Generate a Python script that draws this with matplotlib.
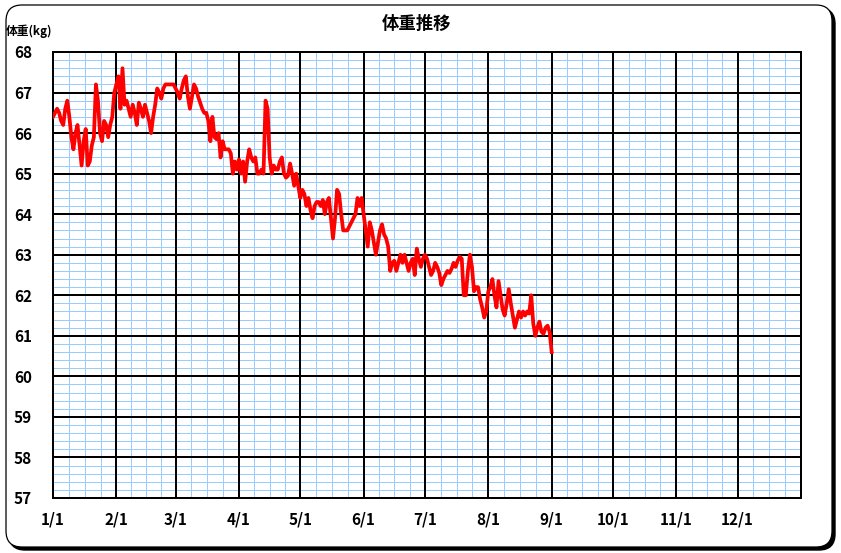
import matplotlib
matplotlib.use("Agg")
import matplotlib.pyplot as plt
import matplotlib.dates as mdates
from matplotlib.patches import FancyBboxPatch
from matplotlib.ticker import MultipleLocator, FixedLocator
from matplotlib.transforms import IdentityTransform
import pandas as pd

plt.rcParams['font.family'] = ['Noto Sans CJK JP', 'DejaVu Sans']

# daily weight (kg)
jan = [66.4, 66.5, 66.6, 66.5, 66.3, 66.2, 66.6, 66.8, 66.4, 65.9, 65.6, 66.0, 66.2, 65.7, 65.2, 65.8,
       66.1, 65.2, 65.3, 65.7, 65.9, 67.2, 66.8, 66.0, 65.8, 66.3, 66.2, 65.9, 66.2, 66.4, 67.0]
feb = [67.2, 67.4, 66.6, 67.6, 66.7, 66.8, 66.6, 66.4, 66.7, 66.5, 66.2, 66.75, 66.6, 66.4, 66.7,
       66.5, 66.3, 66.0, 66.4, 66.7, 67.1, 67.0, 66.85, 67.1, 67.2, 67.2, 67.2, 67.2, 67.2]
mar = [67.1, 67.0, 66.85, 67.1, 67.3, 67.4, 66.9, 66.6, 66.9, 67.2, 67.1, 66.9, 66.75, 66.6, 66.5,
       66.5, 66.3, 65.8, 66.4, 65.9, 65.85, 66.0, 65.4, 65.8, 65.6, 65.6, 65.6, 65.5, 65.0, 65.3, 65.1]
apr = [65.35, 65.0, 65.3, 64.8, 65.3, 65.6, 65.4, 65.3, 65.4, 65.0, 65.0, 65.1, 65.0, 66.8, 66.6,
       65.4, 65.0, 65.2, 65.1, 65.1, 65.3, 65.4, 65.0, 64.9, 64.95, 65.25, 65.0, 64.7, 65.0, 64.7]
may = [64.4, 64.6, 64.5, 64.2, 64.4, 64.1, 63.9, 64.2, 64.3, 64.3, 64.2, 64.35, 64.0, 64.3, 64.4,
       63.9, 63.4, 63.9, 64.6, 64.5, 64.0, 63.6, 63.6, 63.6, 63.7, 63.8, 63.9, 64.0, 64.4, 64.2, 64.4]
jun = [64.0, 63.6, 63.2, 63.8, 63.6, 63.3, 63.0, 63.3, 63.6, 63.75, 63.5, 63.4, 63.2, 62.6, 62.8,
       62.85, 62.6, 62.8, 63.0, 62.8, 63.0, 62.8, 62.6, 62.8, 62.9, 62.5, 63.15, 62.9, 62.7, 62.9]
jul = [63.0, 62.9, 62.7, 62.5, 62.6, 62.8, 62.7, 62.55, 62.25, 62.4, 62.5, 62.6, 62.55, 62.65, 62.8,
       62.7, 62.85, 62.95, 62.9, 62.0, 62.0, 62.6, 63.0, 62.7, 62.1, 62.2, 62.2, 61.9, 61.7, 61.45, 61.6]
aug = [62.1, 62.2, 62.4, 62.0, 61.7, 62.35, 62.0, 61.65, 61.5, 61.8, 62.15, 61.8, 61.5, 61.2, 61.4,
       61.6, 61.45, 61.6, 61.5, 61.6, 61.55, 62.0, 61.3, 61.0, 61.2, 61.35, 61.1, 61.05, 61.2, 61.25, 61.1]
sep = [60.6]

weights = jan + feb + mar + apr + may + jun + jul + aug + sep
dates = pd.date_range("2008-01-01", periods=len(weights), freq="D")

month_starts = pd.date_range("2008-01-01", "2009-01-01", freq="MS")
month_labels = [f"{m}/1" for m in range(1, 13)]
kg_ticks = list(range(57, 69))

W, H = 841, 553
fig = plt.figure(figsize=(W / 100, H / 100), dpi=100)

# outer rounded frame with a small shadow
shadow = FancyBboxPatch((9, 3), 826, 542, boxstyle="round,pad=0,rounding_size=16",
                        transform=IdentityTransform(), facecolor="black", edgecolor="black", zorder=-3)
frame = FancyBboxPatch((6, 6), 826, 542, boxstyle="round,pad=0,rounding_size=16",
                       transform=IdentityTransform(), facecolor="white", edgecolor="black",
                       lw=0.9, zorder=-2)
fig.add_artist(shadow)
fig.add_artist(frame)

ax = fig.add_axes([53 / W, 55 / H, 748 / W, 446 / H])
ax.plot(dates, weights, color="#ff0000", lw=2.7, zorder=3, solid_joinstyle="round")

ax.set_xlim(month_starts[0], month_starts[-1])
ax.set_ylim(57, 68)
ax.set_yticks(kg_ticks)
ax.yaxis.set_minor_locator(MultipleLocator(0.2))
ax.set_xticks(month_starts[:-1])
ax.set_xticklabels(month_labels)

nums = mdates.date2num(month_starts)
minor_x = []
for a, b in zip(nums[:-1], nums[1:]):
    for k in range(1, 4):
        minor_x.append(a + (b - a) * k / 4)
ax.xaxis.set_minor_locator(FixedLocator(minor_x))

# light blue minor grid from the axis, black major grid drawn on top of it
ax.set_axisbelow(True)
ax.grid(which="minor", color="#99ccff", lw=0.72)
ax.grid(which="major", visible=False)
for y in kg_ticks:
    ax.axhline(y, color="black", lw=1.44, zorder=2)
for d in month_starts:
    ax.axvline(d, color="black", lw=1.44, zorder=2)

for s in ax.spines.values():
    s.set_color("black")
    s.set_linewidth(1.44)

ax.tick_params(which="both", length=0)
ax.tick_params(axis="y", pad=15, labelsize=11)
ax.tick_params(axis="x", pad=10, labelsize=11)
for lbl in ax.get_xticklabels() + ax.get_yticklabels():
    lbl.set_fontweight("bold")

fig.text(417 / W, 1 - 24 / H, "体重推移", ha="center", va="center", fontsize=12.5, fontweight="bold")
fig.text(6 / W, 1 - 31 / H, "体重(kg)", ha="left", va="center", fontsize=8.5, fontweight="bold")

fig.savefig("out.png", dpi=100)
